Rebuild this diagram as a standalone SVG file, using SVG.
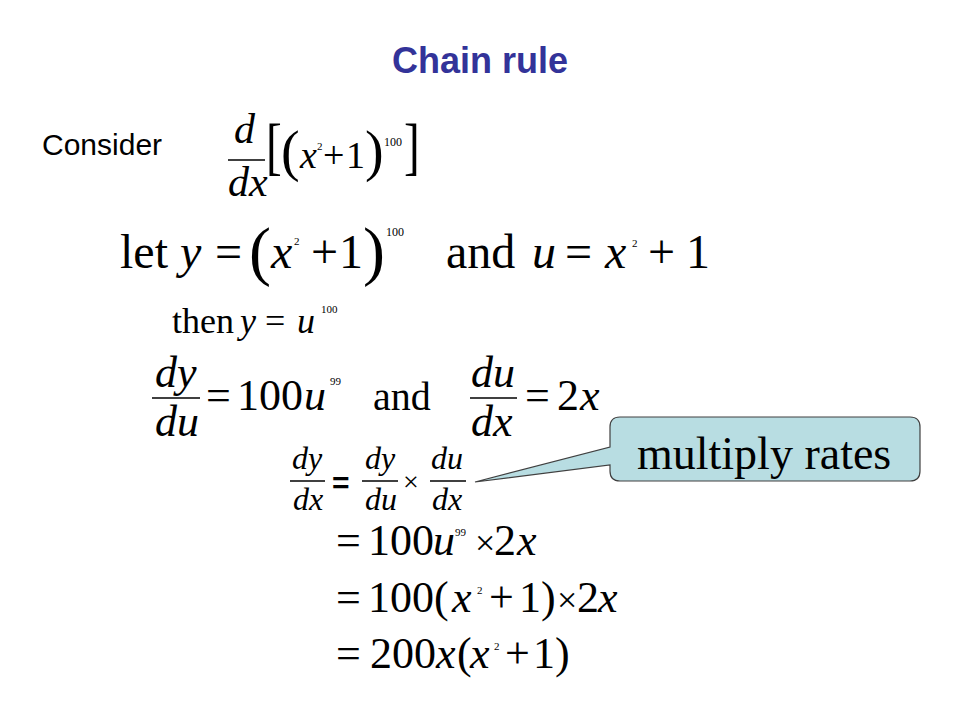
<svg xmlns="http://www.w3.org/2000/svg" width="960" height="720" viewBox="0 0 960 720">
<style>
.bg{fill:#ffffff}
.title{font-family:"Liberation Sans",Arial,sans-serif;font-weight:bold;font-size:36px;fill:#333399}
.sans{font-family:"Liberation Sans",Arial,sans-serif;font-size:30px;fill:#000}
.m{font-family:"Liberation Serif","Times New Roman",serif;fill:#000}
.i{font-style:italic}
.bar{stroke:#000;stroke-width:1.5;fill:none}
.call{fill:#b8dde2;stroke:#404040;stroke-width:1.2}
</style>
<rect class="bg" x="0" y="0" width="960" height="720"/>
<g id="title"><text class="title" x="480" y="73" text-anchor="middle">Chain rule</text></g>
<g id="consider">
<text class="sans" x="42" y="155">Consider</text>
<text class="m i" font-size="42" x="234" y="143">d</text>
<line class="bar" x1="228" y1="160" x2="265" y2="160"/>
<text class="m i" font-size="42" x="228" y="196">dx</text>
<text class="m" font-size="63" transform="translate(266,167) scale(0.75,1)">[</text>
<text class="m" font-size="56" x="281" y="170">(</text>
<text class="m i" font-size="38" x="300" y="168">x</text>
<text class="m" font-size="11" x="317" y="150">2</text>
<text class="m" font-size="38" x="323" y="168">+</text>
<text class="m" font-size="38" x="346" y="168">1</text>
<text class="m" font-size="56" x="365" y="170">)</text>
<text class="m" font-size="12" x="384" y="146">100</text>
<text class="m" font-size="63" transform="translate(404,167) scale(0.75,1)">]</text>
</g>
<g id="let-line">
<text class="m" font-size="48" x="120" y="268">let</text>
<text class="m i" font-size="48" x="180" y="268">y</text>
<text class="m" font-size="48" x="215" y="268">=</text>
<text class="m" font-size="66" x="249" y="273">(</text>
<text class="m i" font-size="48" x="271" y="268">x</text>
<text class="m" font-size="11" x="294" y="245">2</text>
<text class="m" font-size="48" x="311" y="268">+</text>
<text class="m" font-size="48" x="339" y="268">1</text>
<text class="m" font-size="66" x="363" y="273">)</text>
<text class="m" font-size="12" x="386" y="236">100</text>
<text class="m" font-size="48" x="446" y="268">and</text>
<text class="m i" font-size="48" x="532" y="268">u</text>
<text class="m" font-size="48" x="565" y="268">=</text>
<text class="m i" font-size="48" x="605" y="268">x</text>
<text class="m" font-size="11" x="632" y="247">2</text>
<text class="m" font-size="48" x="648" y="268">+</text>
<text class="m" font-size="48" x="686" y="268">1</text>
</g>
<g id="then-line">
<text class="m" font-size="36" x="172" y="333">then</text>
<text class="m i" font-size="36" x="240" y="333">y</text>
<text class="m" font-size="36" x="265" y="333">=</text>
<text class="m i" font-size="36" x="297" y="333">u</text>
<text class="m" font-size="11" x="321" y="313">100</text>
</g>
<g id="derivatives">
<text class="m i" font-size="44" x="155" y="387">dy</text>
<line class="bar" x1="152" y1="398" x2="200" y2="398"/>
<text class="m i" font-size="44" x="155" y="436">du</text>
<text class="m" font-size="44" x="206" y="410">=</text>
<text class="m" font-size="44" x="237" y="410">100</text>
<text class="m i" font-size="44" x="304" y="410">u</text>
<text class="m" font-size="11" x="330" y="385">99</text>
<text class="m" font-size="40" x="373" y="410">and</text>
<text class="m i" font-size="44" x="471" y="387">du</text>
<line class="bar" x1="470" y1="398" x2="517" y2="398"/>
<text class="m i" font-size="44" x="471" y="436">dx</text>
<text class="m" font-size="44" x="525" y="410">=</text>
<text class="m" font-size="44" x="557" y="410">2</text>
<text class="m i" font-size="44" x="580" y="410">x</text>
</g>
<g id="chain-rule">
<text class="m i" font-size="32" x="292" y="469">dy</text>
<line class="bar" x1="290" y1="481" x2="325" y2="481"/>
<text class="m i" font-size="32" x="293" y="510">dx</text>
<text class="sans" font-size="32" font-weight="bold" x="332" y="493">=</text>
<text class="m i" font-size="32" x="365" y="469">dy</text>
<line class="bar" x1="362" y1="481" x2="398" y2="481"/>
<text class="m i" font-size="32" x="365" y="510">du</text>
<text class="m" font-size="28" x="403" y="491">×</text>
<text class="m i" font-size="32" x="431" y="469">du</text>
<line class="bar" x1="430" y1="481" x2="466" y2="481"/>
<text class="m i" font-size="32" x="432" y="510">dx</text>
</g>
<g id="callout">
<path class="call" d="M 620 417 H 910 Q 920 417 920 427 V 471 Q 920 481 910 481 H 620 Q 610 481 610 471 V 465 L 475 482 L 610 447 V 427 Q 610 417 620 417 Z"/>
<text class="m" font-size="46" x="637" y="469">multiply rates</text>
</g>
<g id="step1">
<text class="m" font-size="44" x="336" y="555">=</text>
<text class="m" font-size="44" x="368" y="555">100</text>
<text class="m i" font-size="44" x="433" y="555">u</text>
<text class="m" font-size="11" x="455" y="536">99</text>
<text class="m" font-size="36" x="475" y="555">×</text>
<text class="m" font-size="44" x="494" y="555">2</text>
<text class="m i" font-size="44" x="517" y="555">x</text>
</g>
<g id="step2">
<text class="m" font-size="44" x="336" y="612">=</text>
<text class="m" font-size="44" x="368" y="612">100(</text>
<text class="m i" font-size="44" x="452" y="612">x</text>
<text class="m" font-size="11" x="477" y="594">2</text>
<text class="m" font-size="44" x="489" y="612">+</text>
<text class="m" font-size="44" x="519" y="612">1)</text>
<text class="m" font-size="36" x="557" y="612">×</text>
<text class="m" font-size="44" x="577" y="612">2</text>
<text class="m i" font-size="44" x="598" y="612">x</text>
</g>
<g id="step3">
<text class="m" font-size="44" x="336" y="668">=</text>
<text class="m" font-size="44" x="370" y="668">200</text>
<text class="m i" font-size="44" x="436" y="668">x</text>
<text class="m" font-size="44" x="457" y="668">(</text>
<text class="m i" font-size="44" x="470" y="668">x</text>
<text class="m" font-size="11" x="494" y="650">2</text>
<text class="m" font-size="44" x="505" y="668">+</text>
<text class="m" font-size="44" x="533" y="668">1)</text>
</g>
</svg>
